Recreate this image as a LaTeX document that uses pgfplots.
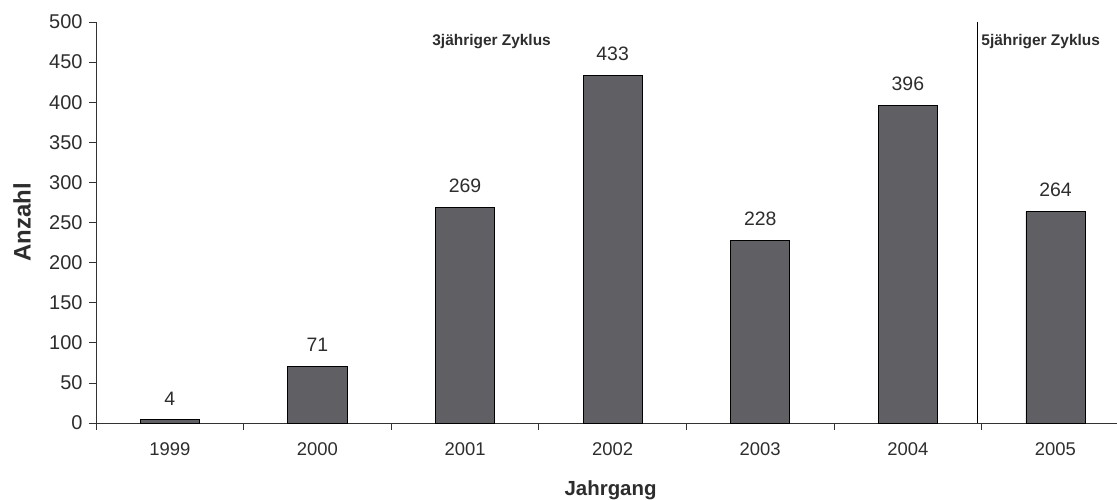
\documentclass[border=0pt]{standalone}
\usepackage{pgfplots}
\pgfplotsset{compat=1.18}
\usepackage{fontspec}
\setmainfont{Liberation Sans}
\definecolor{barfill}{RGB}{96,95,99}
\definecolor{txt}{RGB}{45,45,45}
\begin{document}
\begin{tikzpicture}
\useasboundingbox (-96bp,-77bp) rectangle (1021bp,423bp);
\begin{axis}[
  at={(0,0)}, anchor=south west,
  scale only axis,
  width=1021bp, height=401bp,
  xmin=-0.5, xmax=6.417,
  ymin=0, ymax=500,
  axis x line*=bottom, axis y line*=left,
  axis line style={-, color=black!80, line width=0.8pt},
  ytick={0,50,...,500},
  xtick={-0.5,0.5,1.5,2.5,3.5,4.5,5.5},
  xticklabels={{},{},{},{},{},{},{}},
  extra x ticks={0,1,2,3,4,5,6},
  extra x tick labels={1999,2000,2001,2002,2003,2004,2005},
  extra x tick style={major tick length=0pt, tick style={draw=none}},
  tick align=outside,
  major tick length=7bp,
  tick style={color=black!80, line width=0.8pt},
  /pgf/number format/assume math mode=true,
  /pgf/number format/1000 sep={},
  yticklabel style={font=\fontsize{20}{22}\selectfont, text=txt, xshift=-3bp},
  xticklabel style={font=\fontsize{18.5}{20}\selectfont, text=txt, yshift=-16bp},
  every axis y label/.style={at={(axis description cs:-0.0725,0.5)}, rotate=90, anchor=center, font=\bfseries\fontsize{24}{26}\selectfont, text=txt},
  every axis x label/.style={at={(axis description cs:0.504,-0.167)}, anchor=center, font=\bfseries\fontsize{20.5}{22}\selectfont, text=txt},
  ylabel={Anzahl},
  xlabel={Jahrgang},
  clip=false,
]
\addplot[ybar, bar width=0.4, fill=barfill, draw=black, line width=0.8pt,
  nodes near coords,
  nodes near coords style={font=\fontsize{19.5}{21}\selectfont, text=txt, yshift=11bp}]
  coordinates {(0,4) (1,71) (2,269) (3,433) (4,228) (5,396) (6,264)};
\addplot[black, line width=0.8pt] coordinates {(5.47,0) (5.47,500)};
\node[font=\bfseries\fontsize{15.5}{17}\selectfont, text=txt] at (axis cs:2.18,476) {3jähriger Zyklus};
\node[font=\bfseries\fontsize{15.5}{17}\selectfont, text=txt] at (axis cs:5.9,476) {5jähriger Zyklus};
\end{axis}
\end{tikzpicture}
\end{document}
